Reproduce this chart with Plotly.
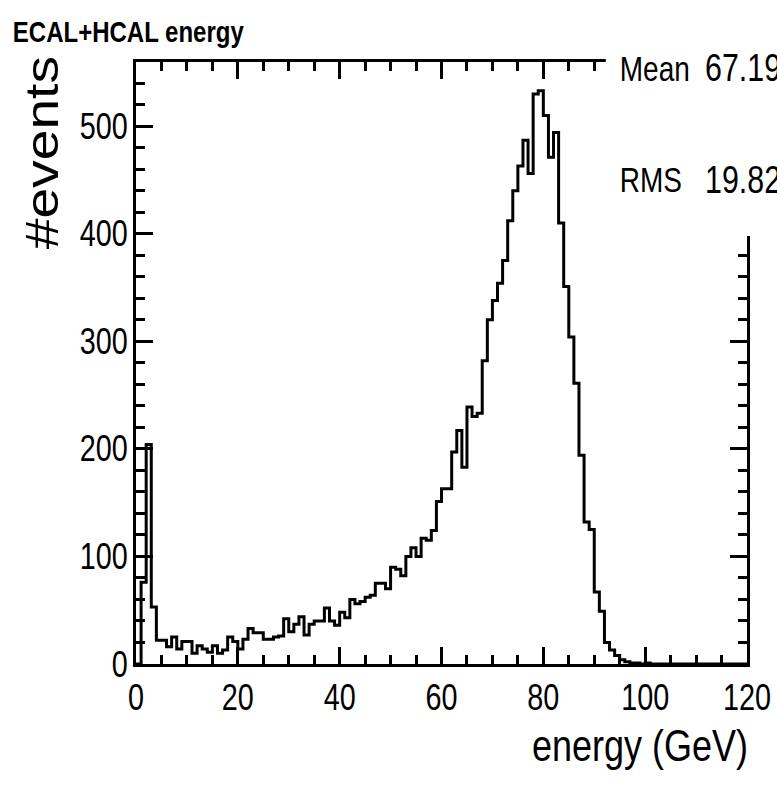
import plotly.graph_objects as go

# Histogram binning: 120 bins of 1 GeV from 0 to 120 GeV
N_BINS = 120
E_MIN, E_MAX = 0.0, 120.0

# Events per bin (ECAL+HCAL summed energy)
counts = [
    0, 76, 204, 53, 22, 22, 16, 25, 14, 21,
    21, 10, 17, 14, 11, 17, 10, 13, 25, 21,
    14, 23, 33, 29, 29, 23, 23, 25, 26, 42,
    30, 37, 44, 27, 37, 40, 40, 52, 40, 36,
    48, 43, 60, 56, 58, 62, 64, 75, 75, 70,
    90, 88, 82, 100, 108, 100, 117, 115, 124, 151,
    163, 163, 197, 217, 183, 239, 230, 233, 282, 320,
    338, 354, 375, 412, 440, 463, 487, 456, 530, 533,
    510, 471, 494, 410, 351, 304, 261, 194, 132, 125,
    67, 49, 20, 13, 8, 4, 2, 1, 1, 0,
    1, 0, 0, 0, 0, 0, 0, 0, 0, 0,
    0, 0, 0, 0, 0, 0, 0, 0, 0, 0,
]

x_tick_values = [0, 20, 40, 60, 80, 100, 120]
y_tick_values = [0, 100, 200, 300, 400, 500]

TITLE = "ECAL+HCAL energy"
X_TITLE = "energy (GeV)"
Y_TITLE = "#events"
stat_names = ["Mean", "RMS"]
stat_values = ["67.19", "19.82"]

FONT = "Liberation Sans, Arial, Helvetica, sans-serif"

bin_width = (E_MAX - E_MIN) / N_BINS
edges = [E_MIN + i * bin_width for i in range(N_BINS + 1)]
step_y = counts + [counts[-1]]

fig = go.Figure()
fig.add_trace(go.Scatter(
    x=edges, y=step_y, mode="lines",
    line=dict(shape="hv", color="black", width=3),
    hoverinfo="skip", showlegend=False,
))

axis_common = dict(
    showline=True, linecolor="black", linewidth=3,
    mirror="ticks", ticks="inside", tickcolor="black", tickwidth=2.5,
    showgrid=False, zeroline=False, automargin=False,
    ticklabeloverflow="allow",
    tickfont=dict(family=FONT, size=36, color="black"),
)

fig.update_xaxes(
    range=[E_MIN, E_MAX], tickvals=x_tick_values, ticklen=17,
    minor=dict(dtick=5, ticks="inside", ticklen=9, tickwidth=2.5, tickcolor="black"),
    **axis_common,
)
fig.update_yaxes(
    range=[0, 1.05 * max(counts)], tickvals=y_tick_values, ticklen=17,
    minor=dict(dtick=20, ticks="inside", ticklen=9, tickwidth=2.5, tickcolor="black"),
    ticklabelstandoff=-2,
    **axis_common,
)

# Statistics box (white panel over the upper-right corner of the frame)
fig.add_shape(type="rect", xref="paper", yref="paper",
              x0=0.769, x1=1.2, y0=0.711, y1=1.3,
              fillcolor="white", line=dict(width=0), layer="above")

stat_y = [0.990, 0.804]
name_x = [0.8494, 0.8429]
for name, val, yy, nx in zip(stat_names, stat_values, stat_y, name_x):
    fig.add_annotation(text=name, xref="paper", yref="paper", x=nx, y=yy,
                       xanchor="center", yanchor="middle", showarrow=False,
                       font=dict(family=FONT, size=35, color="black"))
    fig.add_annotation(text=val, xref="paper", yref="paper", x=0.9885, y=yy,
                       xanchor="center", yanchor="middle", showarrow=False,
                       font=dict(family=FONT, size=38, color="black"))

fig.add_annotation(text="<b>" + TITLE + "</b>", xref="paper", yref="paper",
                   x=-0.0115, y=1.050, xanchor="center", yanchor="middle",
                   showarrow=False, font=dict(family=FONT, size=30, color="black"))
fig.add_annotation(text=X_TITLE, xref="paper", yref="paper",
                   x=0.8249, y=-0.1346, xanchor="center", yanchor="middle",
                   showarrow=False, font=dict(family=FONT, size=45, color="black"))
fig.add_annotation(text=Y_TITLE, xref="paper", yref="paper", textangle=-90,
                   x=-0.154, y=0.850, xanchor="center", yanchor="middle",
                   showarrow=False, font=dict(family=FONT, size=46, color="black"))

fig.update_layout(
    width=777, height=788,
    margin=dict(l=136, r=30, t=62, b=124),
    paper_bgcolor="white", plot_bgcolor="white",
    showlegend=False,
)

# Condensed lettering: horizontal labels are squeezed to a narrow face,
# the vertical axis title is drawn slightly elongated.  The statistics
# values start at a fixed column and run past the right page edge.
post = """
var gd = document.getElementById('{plot_id}');
var statValues = ['67.19', '19.82'];
var statLeft = 705;
gd.querySelectorAll('text').forEach(function (t) {
    var w = t.getComputedTextLength();
    if (!(w > 0)) return;
    var f = (t.textContent === '#events') ? 1.2 : 0.8;
    t.setAttribute('textLength', (w * f).toFixed(2));
    t.setAttribute('lengthAdjust', 'spacingAndGlyphs');
    if (statValues.indexOf(t.textContent) >= 0) {
        var box = t.getBoundingClientRect();
        var gbox = gd.getBoundingClientRect();
        var dx = statLeft - (box.left - gbox.left);
        var tr = t.getAttribute('transform') || '';
        t.setAttribute('transform', tr + ' translate(' + dx.toFixed(2) + ',0)');
    }
});
"""

fig.write_html("out.html", post_script=post)
